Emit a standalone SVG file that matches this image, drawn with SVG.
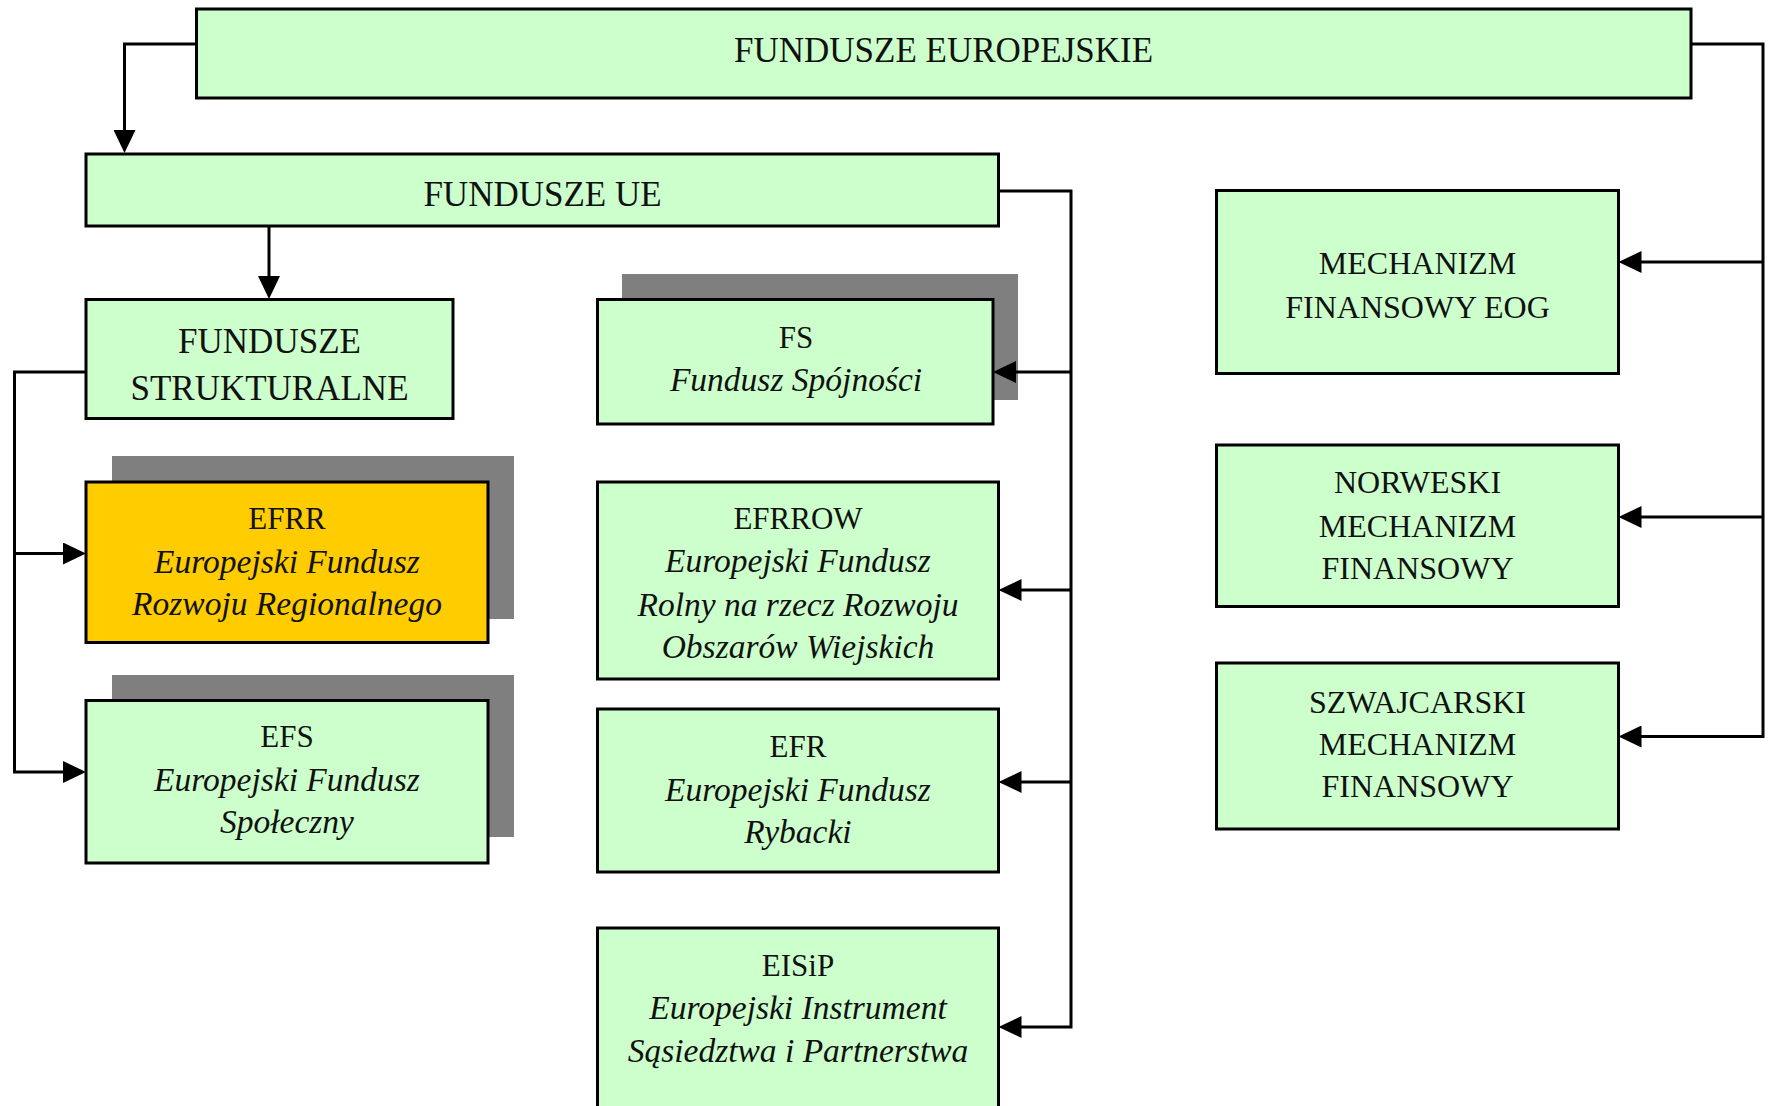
<svg xmlns="http://www.w3.org/2000/svg" width="1771" height="1106" viewBox="0 0 1771 1106">
<defs>
<style>
.box{fill:#CCFFCC;stroke:#000;stroke-width:3}
.hl{fill:#FFCC00;stroke:#000;stroke-width:3}
.sh{fill:#7F7F7F;stroke:none}
text{font-family:"Liberation Serif","Times New Roman",serif;fill:#111;text-anchor:middle}
.big{font-size:35px}
.code{font-size:31px}
.it{font-size:33.5px;font-style:italic}
.rt{font-size:32px}
.conn path{fill:none;stroke:#000;stroke-width:3}
</style>
<marker id="ah" markerUnits="userSpaceOnUse" markerWidth="23" markerHeight="22" refX="13" refY="11" orient="auto" viewBox="0 0 23 22">
<path d="M0,0 L23,11 L0,22 z" fill="#000"/>
</marker>
</defs>
<rect width="1771" height="1106" fill="#fff"/>

<g id="fundusze-europejskie">
<rect class="box" x="196.5" y="9" width="1494.5" height="89"/>
<text class="big" x="943.5" y="62">FUNDUSZE EUROPEJSKIE</text>
</g>

<g id="fundusze-ue">
<rect class="box" x="86" y="154" width="912.5" height="72"/>
<text class="big" x="542.5" y="206">FUNDUSZE UE</text>
</g>

<g id="fundusze-strukturalne">
<rect class="box" x="86" y="299.5" width="367" height="119"/>
<text class="big" x="269.5" y="353">FUNDUSZE</text>
<text class="big" x="269.5" y="400">STRUKTURALNE</text>
</g>

<g id="efrr">
<rect class="sh" x="112" y="456" width="402" height="163"/>
<rect class="hl" x="86" y="482" width="402" height="160.5"/>
<text class="code" x="287" y="529">EFRR</text>
<text class="it" x="287" y="573">Europejski Fundusz</text>
<text class="it" x="287" y="614.5">Rozwoju Regionalnego</text>
</g>

<g id="efs">
<rect class="sh" x="112" y="675" width="402" height="162"/>
<rect class="box" x="86" y="700.5" width="402" height="162.5"/>
<text class="code" x="287" y="746.5">EFS</text>
<text class="it" x="287" y="790.5">Europejski Fundusz</text>
<text class="it" x="287" y="832.5">Społeczny</text>
</g>

<g id="fs">
<rect class="sh" x="622" y="274" width="396" height="126"/>
<rect class="box" x="597.5" y="299.5" width="395.5" height="124.5"/>
<text class="code" x="796" y="348">FS</text>
<text class="it" x="796" y="391">Fundusz Spójności</text>
</g>

<g id="efrrow">
<rect class="box" x="597.5" y="482" width="401" height="197"/>
<text class="code" x="798" y="528.5">EFRROW</text>
<text class="it" x="798" y="572">Europejski Fundusz</text>
<text class="it" x="798" y="615.5">Rolny na rzecz Rozwoju</text>
<text class="it" x="798" y="658">Obszarów Wiejskich</text>
</g>

<g id="efr">
<rect class="box" x="597.5" y="709" width="401" height="163"/>
<text class="code" x="798" y="756.5">EFR</text>
<text class="it" x="798" y="801">Europejski Fundusz</text>
<text class="it" x="798" y="843">Rybacki</text>
</g>

<g id="eisip">
<rect class="box" x="597.5" y="928" width="401" height="185"/>
<text class="code" x="798" y="976">EISiP</text>
<text class="it" x="798" y="1019">Europejski Instrument</text>
<text class="it" x="798" y="1062">Sąsiedztwa i Partnerstwa</text>
</g>

<g id="mechanizm-eog">
<rect class="box" x="1216.5" y="190.5" width="402" height="183"/>
<text class="rt" x="1417.5" y="274">MECHANIZM</text>
<text class="rt" x="1417.5" y="318">FINANSOWY EOG</text>
</g>

<g id="norweski">
<rect class="box" x="1216.5" y="445" width="402" height="161.5"/>
<text class="rt" x="1417.5" y="493">NORWESKI</text>
<text class="rt" x="1417.5" y="536.5">MECHANIZM</text>
<text class="rt" x="1417.5" y="579">FINANSOWY</text>
</g>

<g id="szwajcarski">
<rect class="box" x="1216.5" y="663" width="402" height="166"/>
<text class="rt" x="1417.5" y="713">SZWAJCARSKI</text>
<text class="rt" x="1417.5" y="755">MECHANIZM</text>
<text class="rt" x="1417.5" y="797">FINANSOWY</text>
</g>

<g class="conn" id="connectors">
<path d="M196.5,44 H124.5 V143" marker-end="url(#ah)"/>
<path d="M269,226 V289" marker-end="url(#ah)"/>
<path d="M86,372 H14.5 V772 H76" marker-end="url(#ah)"/>
<path d="M14.5,553.5 H76" marker-end="url(#ah)"/>
<path d="M998.5,191 H1071 V1027 H1008.5" marker-end="url(#ah)"/>
<path d="M1071,372 H1003" marker-end="url(#ah)"/>
<path d="M1071,590 H1008.5" marker-end="url(#ah)"/>
<path d="M1071,782 H1008.5" marker-end="url(#ah)"/>
<path d="M1691,44 H1763 V736.5 H1628.5" marker-end="url(#ah)"/>
<path d="M1763,262 H1628.5" marker-end="url(#ah)"/>
<path d="M1763,517 H1628.5" marker-end="url(#ah)"/>
</g>
</svg>
